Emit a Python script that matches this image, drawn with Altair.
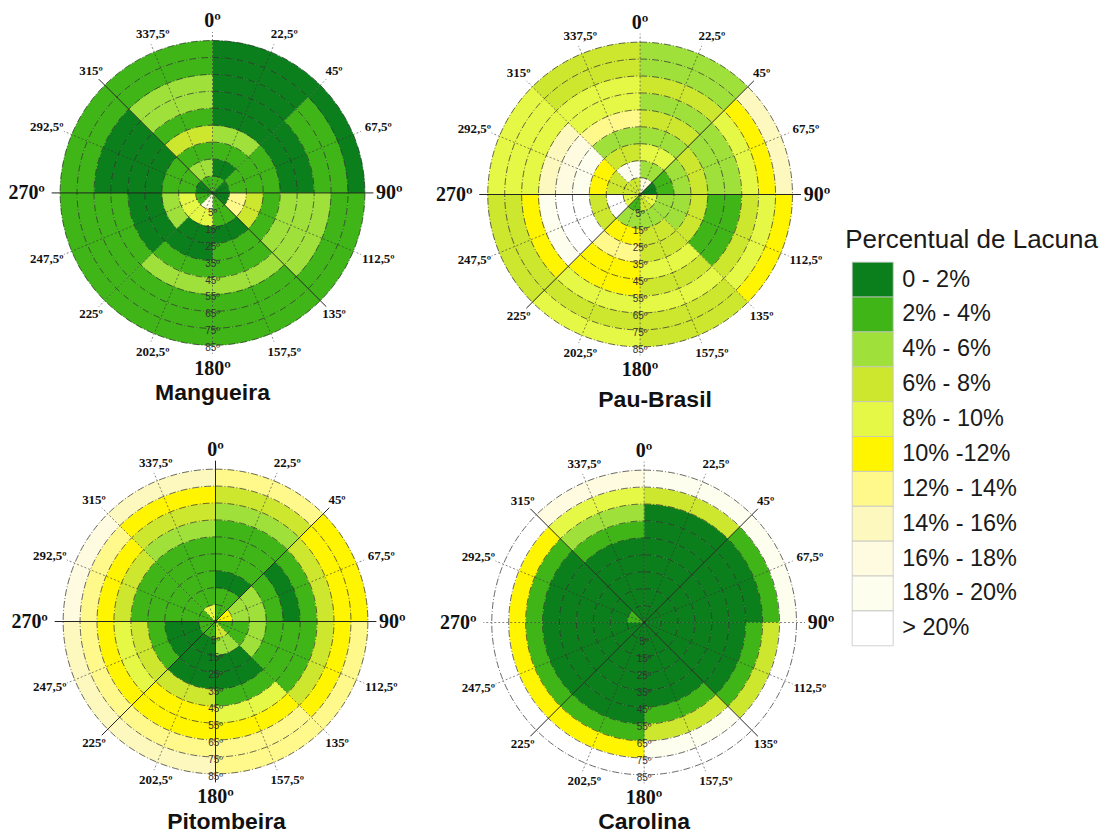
import math
import altair as alt
import pandas as pd

CLASSES = ["0 - 2%", "2% - 4%", "4% - 6%", "6% - 8%", "8% - 10%", "10% -12%",
           "12% - 14%", "14% - 16%", "16% - 18%", "18% - 20%", "> 20%"]
COLORS = ["#0B7F1B", "#40B518", "#9FE03A", "#CDE62E", "#E5F845", "#FFF500",
          "#FFF98C", "#FDF9BE", "#FEFBE0", "#FEFEEE", "#FFFFFF"]
LEGEND_TITLE = "Percentual de Lacuna"

# one row per 45-degree sector (clockwise from north), inner ring to outer ring;
# each number is an index into CLASSES
MANGUEIRA = [
    [1, 0, 1, 2, 0, 0, 0, 0, 0],
    [0, 1, 1, 1, 0, 0, 1, 1, 0],
    [0, 6, 3, 1, 2, 2, 2, 1, 1],
    [1, 1, 0, 1, 1, 2, 1, 1, 1],
    [8, 4, 0, 0, 1, 2, 1, 1, 1],
    [1, 4, 2, 0, 0, 1, 1, 1, 1],
    [0, 1, 1, 0, 0, 0, 0, 1, 1],
    [1, 2, 1, 3, 1, 2, 2, 1, 1],
]
PAU_BRASIL = [
    [8, 2, 4, 2, 3, 2, 3, 2, 2],
    [0, 1, 2, 3, 2, 2, 4, 5, 7],
    [4, 2, 2, 3, 1, 1, 3, 4, 5],
    [3, 2, 3, 3, 4, 3, 4, 3, 3],
    [1, 2, 5, 6, 5, 5, 4, 3, 4],
    [4, 10, 3, 10, 10, 9, 5, 3, 3],
    [3, 3, 5, 9, 8, 7, 4, 4, 4],
    [3, 9, 3, 2, 6, 4, 4, 3, 3],
]
PITOMBEIRA = [
    [1, 1, 0, 1, 1, 1, 2, 3, 6],
    [5, 2, 2, 1, 0, 1, 3, 5, 5],
    [1, 1, 2, 1, 1, 1, 3, 5, 6],
    [3, 2, 0, 0, 1, 4, 5, 6, 6],
    [1, 0, 0, 0, 3, 5, 5, 6, 7],
    [1, 0, 0, 1, 3, 4, 5, 6, 7],
    [1, 1, 1, 1, 1, 3, 5, 6, 8],
    [4, 1, 1, 1, 1, 2, 3, 5, 7],
]
CAROLINA = [
    [0, 0, 0, 0, 0, 0, 0, 3, 9],
    [0, 0, 0, 0, 0, 0, 0, 1, 9],
    [0, 0, 0, 0, 0, 0, 1, 3, 10],
    [0, 0, 0, 0, 0, 1, 3, 9, 10],
    [0, 0, 0, 0, 0, 0, 1, 5, 10],
    [0, 0, 0, 0, 0, 0, 1, 5, 10],
    [1, 0, 0, 0, 0, 0, 1, 5, 10],
    [0, 0, 0, 0, 0, 1, 2, 4, 8],
]
RING_LABELS = ["5º", "15º", "25º", "35º", "45º", "55º", "65º", "75º", "85º"]
ANGLES = [0, 22.5, 45, 67.5, 90, 112.5, 135, 157.5, 180, 202.5, 225, 247.5, 270, 292.5, 315, 337.5]
ANGLE_LABELS = ["0º", "22,5º", "45º", "67,5º", "90º", "112,5º", "135º", "157,5º",
                "180º", "202,5º", "225º", "247,5º", "270º", "292,5º", "315º", "337,5º"]

# layout
R = 152.5
RINGS = 9
SERIF = "Liberation Serif"
SANS = "Liberation Sans"
COL1, COL2, COL3 = 416, 411, 270
ROW1, ROW2 = 416, 408


def polar(angle, r):
    a = math.radians(angle)
    return r * math.sin(a), -r * math.cos(a)


def label_xy(angle):
    if angle == 0:
        return 0, -172
    if angle == 90:
        return 177, 0
    if angle == 180:
        return 0, 176
    if angle == 270:
        return -186, 0
    x, y = polar(angle, 172)
    if angle in (22.5, 157.5, 202.5, 337.5):
        x += 6
    if angle in (67.5, 112.5):
        x += 7
    if angle in (247.5, 292.5):
        x -= 7
    return x, y


def panel(name, grid, solid, cx, cy, w, h, title_dx, title_dy):
    cells = []
    for s, sector in enumerate(grid):
        for ring, code in enumerate(sector):
            cells.append({"t0": s * 45, "t1": (s + 1) * 45, "r0": ring, "r1": ring + 1,
                          "cls": CLASSES[code], "cx": 0, "cy": 0})
    circles = [{"r": k, "t0": 0, "t1": 360, "cx": 0, "cy": 0} for k in range(1, RINGS + 1)]
    spokes = []
    for a in ANGLES:
        x, y = polar(a, 161)
        spokes.append({"x": 0, "y": 0, "x2": x, "y2": y, "solid": a in solid})
    spokes_df = pd.DataFrame(spokes)
    ring_txt = pd.DataFrame([{"x": 0, "y": (i + 1) * R / RINGS + 3, "t": t}
                             for i, t in enumerate(RING_LABELS)])
    minor, major = [], []
    for a, t in zip(ANGLES, ANGLE_LABELS):
        x, y = label_xy(a)
        (major if a % 90 == 0 else minor).append({"x": x, "y": y, "t": t})

    xs = alt.Scale(domain=[-cx, w - cx], range=[0, w], nice=False, zero=False)
    ys = alt.Scale(domain=[-cy, h - cy], range=[0, h], nice=False, zero=False)
    X = alt.X("cx:Q", scale=xs, axis=None)
    Y = alt.Y("cy:Q", scale=ys, axis=None)
    th = alt.Scale(domain=[0, 360])
    rad = alt.Scale(domain=[0, RINGS], range=[0, R], zero=True, nice=False)
    cscale = alt.Scale(domain=CLASSES, range=COLORS)

    arcs = alt.Chart(pd.DataFrame(cells)).mark_arc(strokeWidth=0.4).encode(
        x=X, y=Y,
        theta=alt.Theta("t0:Q", scale=th), theta2="t1:Q",
        radius=alt.Radius("r0:Q", scale=rad), radius2="r1:Q",
        color=alt.Color("cls:N", scale=cscale, legend=None),
        stroke=alt.Stroke("cls:N", scale=cscale, legend=None),
    )
    rings = alt.Chart(pd.DataFrame(circles)).mark_arc(
        fillOpacity=0, stroke="#2a2a2a", strokeWidth=0.7, strokeDash=[7, 2, 1, 2]
    ).encode(
        x=X, y=Y,
        theta=alt.Theta("t0:Q", scale=th), theta2="t1:Q",
        radius=alt.Radius("r:Q", scale=rad),
    )
    rx = alt.X("x:Q", scale=xs, axis=None)
    ry = alt.Y("y:Q", scale=ys, axis=None)
    thin = alt.Chart(spokes_df[~spokes_df.solid]).mark_rule(
        color="#333333", strokeWidth=0.6, strokeDash=[2, 2]
    ).encode(x=rx, y=ry, x2="x2:Q", y2="y2:Q")
    thick = alt.Chart(spokes_df[spokes_df.solid]).mark_rule(
        color="#222222", strokeWidth=1
    ).encode(x=rx, y=ry, x2="x2:Q", y2="y2:Q")
    r_text = alt.Chart(ring_txt).mark_text(font=SANS, fontSize=10, color="#333333").encode(
        x=rx, y=ry, text="t:N")
    minor_text = alt.Chart(pd.DataFrame(minor)).mark_text(
        font=SERIF, fontSize=13, fontWeight="bold", color="#111111").encode(x=rx, y=ry, text="t:N")
    major_text = alt.Chart(pd.DataFrame(major)).mark_text(
        font=SERIF, fontSize=20, fontWeight="bold", color="#111111").encode(x=rx, y=ry, text="t:N")
    title = alt.Chart(pd.DataFrame([{"x": title_dx, "y": title_dy, "t": name}])).mark_text(
        font=SANS, fontSize=23, fontWeight="bold", color="#111111").encode(x=rx, y=ry, text="t:N")
    return alt.layer(arcs, rings, thin, thick, r_text, minor_text, major_text, title).properties(
        width=w, height=h)


a = panel("Mangueira", MANGUEIRA, [90, 270, 135, 315], 204.7, 184.7, COL1, ROW1, 0, 200)
b = panel("Pau-Brasil", PAU_BRASIL, [90, 270, 45, 225], 216.7, 186.3, COL2, ROW1, 15, 206)
c = panel("Pitombeira", PITOMBEIRA, [0, 180, 90, 270, 45, 225], 207.7, 197.7, COL1, ROW2, 11, 201)
d = panel("Carolina", CAROLINA, [45, 225, 135, 315], 220.7, 198.7, COL2, ROW2, 0, 200)

leg_df = pd.DataFrame({"cls": CLASSES})
band = alt.Scale(domain=CLASSES, range=[254, 638], paddingInner=0, paddingOuter=0)
swatches = alt.Chart(leg_df).mark_rect(stroke="#c4c4c4", strokeWidth=0.8).encode(
    y=alt.Y("cls:N", scale=band, axis=None),
    x=alt.value(17), x2=alt.value(58),
    color=alt.Color("cls:N", scale=alt.Scale(domain=CLASSES, range=COLORS), legend=None),
)
sw_text = alt.Chart(leg_df).mark_text(
    font=SANS, fontSize=23.5, color="#1a1a1a", align="left", baseline="middle"
).encode(y=alt.Y("cls:N", scale=band, axis=None), x=alt.value(67), text="cls:N")
leg_title = alt.Chart(pd.DataFrame({"t": [LEGEND_TITLE]})).mark_text(
    font=SANS, fontSize=26, color="#1a1a1a", align="left", baseline="middle"
).encode(x=alt.value(10), y=alt.value(232), text="t:N")
legend = alt.layer(swatches, sw_text, leg_title).properties(width=COL3, height=ROW1 + ROW2)

chart = alt.hconcat(
    alt.vconcat(a, c, spacing=0),
    alt.vconcat(b, d, spacing=0),
    legend,
    spacing=0,
).properties(padding=0).configure_view(stroke=None)

chart.save("out.html", embed_options={"renderer": "svg", "actions": False})
